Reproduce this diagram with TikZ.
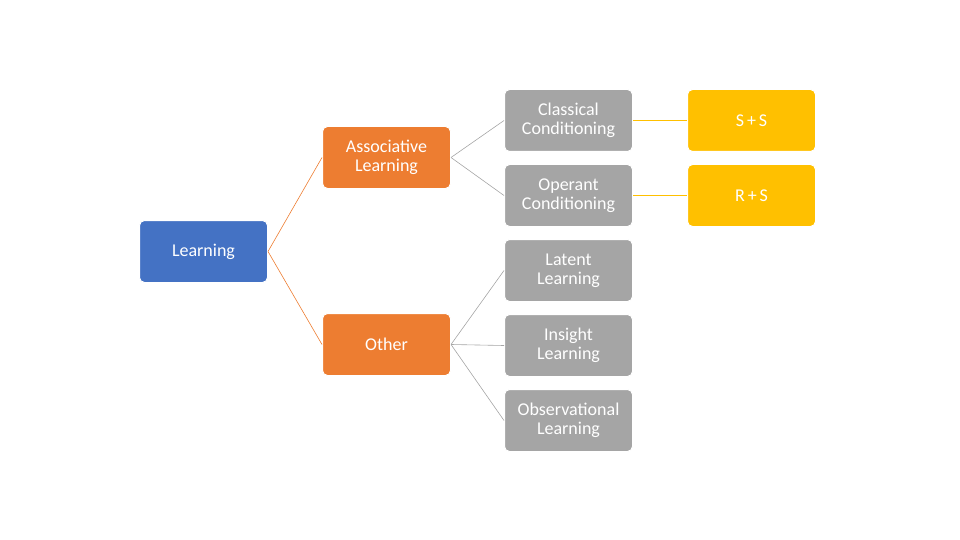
\documentclass[tikz,border=0pt]{standalone}
\usepackage{fontspec}
\setmainfont{Carlito}
\definecolor{cblue}{HTML}{4472C4}
\definecolor{corange}{HTML}{ED7D31}
\definecolor{cgray}{HTML}{A5A5A5}
\definecolor{cgold}{HTML}{FFC000}
\begin{document}
\begin{tikzpicture}[x=1pt,y=-1pt,
 box/.style={draw=white,line width=1pt,rounded corners=5pt,minimum width=128pt,minimum height=62pt,inner sep=0pt,text=white,font=\fontsize{18}{19}\selectfont,align=center,anchor=north west,text width=126pt},
 link/.style={line width=0.6pt}]
\useasboundingbox (0,0) rectangle (960,540);
\node[box,fill=cblue] (L) at (139,220) {Learning};
\node[box,fill=corange] (A) at (322,126) {Associative\\Learning};
\node[box,fill=corange] (O) at (322,313) {Other};
\node[box,fill=cgray] (C) at (504,89) {Classical\\Conditioning};
\node[box,fill=cgray] (Op) at (504,164) {Operant\\Conditioning};
\node[box,fill=cgray] (La) at (504,239) {Latent\\Learning};
\node[box,fill=cgray] (I) at (504,314) {Insight\\Learning};
\node[box,fill=cgray] (Ob) at (504,389) {Observational\\Learning};
\node[box,fill=cgold] (SS) at (687,89) {S\,+\,S};
\node[box,fill=cgold] (RS) at (687,164) {R\,+\,S};
\draw[link,corange] (L.east) -- (A.west);
\draw[link,corange] (L.east) -- (O.west);
\draw[link,cgray] (A.east) -- (C.west);
\draw[link,cgray] (A.east) -- (Op.west);
\draw[link,cgray] (O.east) -- (La.west);
\draw[link,cgray] (O.east) -- (I.west);
\draw[link,cgray] (O.east) -- (Ob.west);
\draw[link,cgold] (C.east) -- (SS.west);
\draw[link,cgold] (Op.east) -- (RS.west);
\end{tikzpicture}
\end{document}
